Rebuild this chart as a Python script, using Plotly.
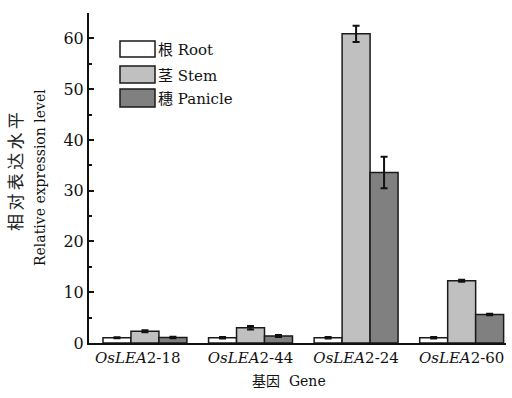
import plotly.graph_objects as go

genes = ["<i>OsLEA</i>2-18\u00a0\u00a0\u00a0", "<i>OsLEA</i>2-44", "<i>OsLEA</i>2-24", "<i>OsLEA</i>2-60"]
series_names = ["根 Root", "茎 Stem", "穗 Panicle"]
root = [1.05, 1.05, 1.05, 1.05]
root_err = [0.1, 0.15, 0.15, 0.15]
stem = [2.3, 3.0, 60.9, 12.25]
stem_err = [0.2, 0.35, 1.6, 0.2]
panicle = [1.1, 1.4, 33.6, 5.6]
panicle_err = [0.15, 0.2, 3.1, 0.15]
colors = ["#ffffff", "#c0c0c0", "#808080"]

FONT = "DejaVu Serif, Noto Sans CJK SC, serif"

fig = go.Figure()
for name, vals, errs, col in zip(series_names, [root, stem, panicle],
                                 [root_err, stem_err, panicle_err], colors):
    fig.add_trace(go.Bar(
        x=list(range(len(genes))), y=vals, name=name,
        marker=dict(color=col, line=dict(color="#1a1a1a", width=1.5)),
        error_y=dict(type="data", array=errs, color="#111111", thickness=2, width=3.5),
        showlegend=False,
    ))

L, R, T, B = 89, 506, 13, 343
def px(x):
    return (x - L) / (R - L)
def py(y):
    return (B - y) / (B - T)

shapes = []
annotations = []
boxes = [(41, 57), (66, 83), (89, 107)]
for (y0, y1), name, col in zip(boxes, series_names, colors):
    shapes.append(dict(type="rect", xref="paper", yref="paper",
                       x0=px(120), x1=px(155), y0=py(y1), y1=py(y0),
                       fillcolor=col, line=dict(color="#1a1a1a", width=1.5)))
    annotations.append(dict(xref="paper", yref="paper", x=px(156), y=py((y0 + y1) / 2 + 1),
                            xanchor="left", yanchor="middle", text=name, showarrow=False,
                            font=dict(size=15, color="#111111", family=FONT)))

annotations.append(dict(xref="paper", yref="paper", x=px(16), y=py(172), textangle=-90,
                        text="相\u2009对\u2009表\u2009达\u2009水\u2009平", showarrow=False,
                        xanchor="center", yanchor="middle",
                        font=dict(size=17, color="#222222", family=FONT)))
annotations.append(dict(xref="paper", yref="paper", x=px(40), y=py(178), textangle=-90,
                        text="Relative expression level", showarrow=False,
                        xanchor="center", yanchor="middle",
                        font=dict(size=14, color="#111111", family=FONT)))
annotations.append(dict(xref="paper", yref="paper", x=px(289), y=py(381),
                        text="基因  Gene", showarrow=False, xanchor="center", yanchor="middle",
                        font=dict(size=14, color="#111111", family=FONT)))

fig.update_layout(
    width=512, height=398,
    margin=dict(l=L, r=512 - R, t=T, b=398 - B),
    paper_bgcolor="white", plot_bgcolor="white",
    barmode="group", bargap=0.205, bargroupgap=0,
    font=dict(family=FONT, size=15, color="#111111"),
    shapes=shapes, annotations=annotations,
    xaxis=dict(range=[-0.53, 3.42], tickmode="array", tickvals=list(range(len(genes))),
               ticktext=genes, showline=True, linecolor="#111111", linewidth=2,
               ticks="", showgrid=False, zeroline=False, tickfont=dict(size=15)),
    yaxis=dict(range=[0, 65], tickmode="linear", tick0=0, dtick=10,
               showline=True, linecolor="#111111", linewidth=2,
               ticks="inside", ticklen=5, tickwidth=1.5, tickcolor="#111111",
               minor=dict(dtick=5, ticks="inside", ticklen=3, tickwidth=1.5, tickcolor="#111111"),
               showgrid=False, zeroline=False, tickfont=dict(size=16)),
)

fig.write_html("out.html")
